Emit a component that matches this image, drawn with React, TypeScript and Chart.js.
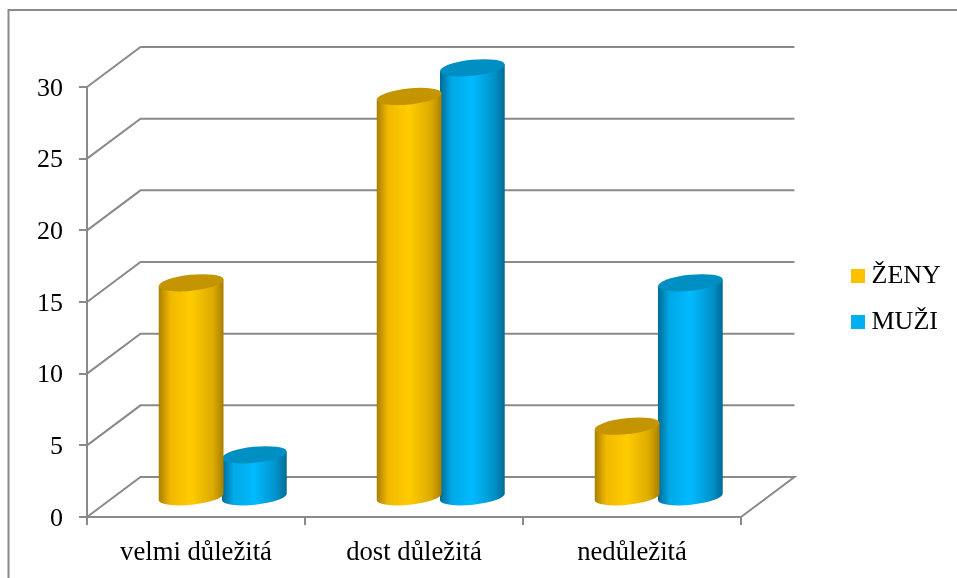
import React, { useEffect, useRef } from "react";
import { Chart, registerables } from "chart.js";

Chart.register(...registerables);

const categories = ["velmi důležitá", "dost důležitá", "nedůležitá"];
const zeny = [15, 28, 5];
const muzi = [3, 30, 15];
const yTicks = [0, 5, 10, 15, 20, 25, 30];

const GRID = "#8a8a8a";
const FONT = '"Liberation Serif", "Times New Roman", serif';
// Offset of the back wall from the front plane of the 3D box.
const DEPTH_X = 53.5;
const DEPTH_Y = -40;
const TILT = (-6 * Math.PI) / 180;
const CAP_RY = 8;

const shades = [
  { edge: "#a87e00", near: "#f2b900", bright: "#ffcc00", far: "#dcaa00", cap: "#c49500" },
  { edge: "#006a94", near: "#00a8e6", bright: "#00baff", far: "#0092c8", cap: "#008fc2" },
];

// Walls and floor of the box: only the lines, as the walls stay unfilled.
const boxPlugin = {
  id: "box3d",
  beforeDatasetsDraw(chart: any) {
    const { ctx, scales } = chart;
    const { x, y } = scales;
    const left = x.left;
    const right = x.right;
    ctx.save();
    ctx.strokeStyle = GRID;
    ctx.lineWidth = 2;
    ctx.lineJoin = "miter";
    yTicks.forEach((v) => {
      const py = y.getPixelForValue(v);
      ctx.beginPath();
      ctx.moveTo(left, py);
      ctx.lineTo(left + DEPTH_X, py + DEPTH_Y);
      ctx.lineTo(right + DEPTH_X, py + DEPTH_Y);
      if (v === 0) ctx.lineTo(right, py);
      ctx.stroke();
    });
    ctx.restore();
  },
  // Page-wide frame: left and top edges only.
  beforeDraw(chart: any) {
    const { ctx, width, height } = chart;
    ctx.save();
    ctx.strokeStyle = GRID;
    ctx.lineWidth = 2;
    ctx.beginPath();
    ctx.moveTo(8.5, height);
    ctx.lineTo(8.5, 10);
    ctx.lineTo(width, 10);
    ctx.stroke();
    ctx.restore();
  },
  afterLayout(chart: any) {
    const l = chart.legend;
    const shiftX = 837.5 - l.left;
    l.left += shiftX;
    l.right += shiftX;
    l.top -= 3;
    l.bottom -= 3;
    // Numerals sit optically centred on their tick marks.
    chart.scales.y.getLabelItems(chart.chartArea).forEach((item: any) => {
      item.options.translation[1] += 2;
    });
  },
};

// Each bar element is painted as an upright cylinder standing mid-depth in the box.
const cylinderPlugin = {
  id: "cylinders",
  beforeDatasetDraw(chart: any, args: any) {
    const { ctx } = chart;
    const meta = chart.getDatasetMeta(args.index);
    const s = shades[args.index];
    meta.data.forEach((bar: any) => {
      const cx = bar.x + DEPTH_X / 2;
      const topY = bar.y + DEPTH_Y * 0.48;
      const baseY = bar.base + DEPTH_Y * 0.48;
      const rx = bar.width / 2;
      const ex = rx * Math.cos(TILT);
      const ey = rx * Math.sin(TILT);
      const g = ctx.createLinearGradient(cx - rx, 0, cx + rx, 0);
      g.addColorStop(0, s.edge);
      g.addColorStop(0.18, s.near);
      g.addColorStop(0.5, s.bright);
      g.addColorStop(0.84, s.far);
      g.addColorStop(1, s.edge);
      ctx.save();
      ctx.beginPath();
      ctx.moveTo(cx - ex, topY - ey);
      ctx.lineTo(cx - ex, baseY - ey);
      ctx.ellipse(cx, baseY, rx, CAP_RY, TILT, Math.PI, 0, true);
      ctx.lineTo(cx + ex, topY + ey);
      ctx.closePath();
      ctx.fillStyle = g;
      ctx.fill();
      ctx.beginPath();
      ctx.ellipse(cx, topY, rx, CAP_RY, TILT, 0, Math.PI * 2);
      ctx.fillStyle = s.cap;
      ctx.fill();
      ctx.restore();
    });
    return false;
  },
};

export default function App() {
  const ref = useRef<HTMLCanvasElement>(null);
  useEffect(() => {
    const chart = new Chart(ref.current as HTMLCanvasElement, {
      type: "bar",
      data: {
        labels: categories,
        datasets: [
          { label: "ŽENY", data: zeny, backgroundColor: "#ffc000", borderWidth: 0, categoryPercentage: 0.58, barPercentage: 1.03 },
          { label: "MUŽI", data: muzi, backgroundColor: "#00b0f0", borderWidth: 0, categoryPercentage: 0.58, barPercentage: 1.03 },
        ],
      },
      options: {
        responsive: false,
        animation: false,
        layout: { padding: { top: 87, left: 0, right: 0, bottom: 0 } },
        plugins: {
          tooltip: { enabled: false },
          legend: {
            position: "right",
            fullSize: false,
            labels: {
              usePointStyle: true,
              pointStyle: "rect",
              boxWidth: 1,
              boxHeight: 14,
              padding: 20,
              color: "#000",
              font: { family: FONT, size: 26 },
            },
          },
        },
        scales: {
          x: {
            afterFit: (s: any) => { s.height = 61; },
            grid: { drawOnChartArea: false, color: GRID, lineWidth: 2, tickLength: 8 },
            border: { color: GRID, width: 2 },
            ticks: { color: "#000", padding: 12, maxRotation: 0, font: { family: FONT, size: 26.7 } },
          },
          y: {
            min: 0,
            max: 30,
            afterFit: (s: any) => { s.width = 87; },
            afterBuildTicks: (s: any) => { s.ticks = yTicks.map((value) => ({ value })); },
            grid: { drawOnChartArea: false, color: GRID, lineWidth: 2, tickLength: 8 },
            border: { color: GRID, width: 2 },
            ticks: { color: "#000", padding: 16, font: { family: FONT, size: 26 } },
          },
          // Empty axis that holds the gap between the plot and the legend.
          gap: {
            type: "linear",
            position: "right",
            afterFit: (s: any) => { s.width = 102.7; },
            grid: { display: false },
            border: { display: false },
            ticks: { display: false },
          },
        },
      } as any,
      plugins: [boxPlugin, cylinderPlugin],
    });
    return () => chart.destroy();
  }, []);
  return (
    <div style={{ position: "absolute", left: 0, top: 0, width: 957, height: 578 }}>
      <canvas ref={ref} width={957} height={578} style={{ display: "block" }} />
    </div>
  );
}
